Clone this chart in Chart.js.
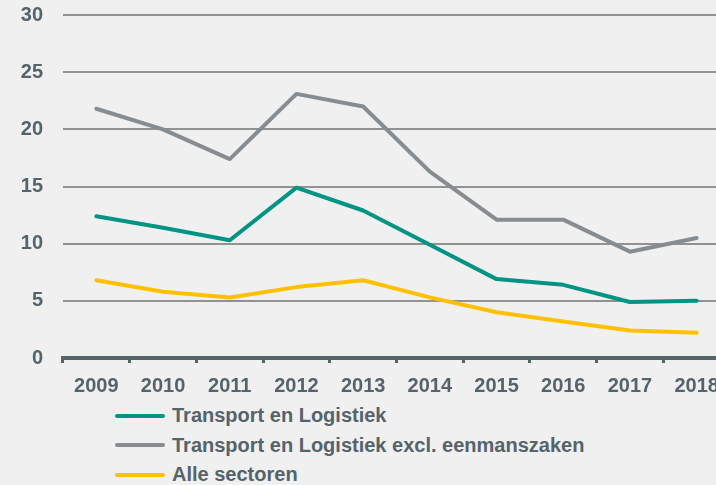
<!DOCTYPE html>
<html>
<head>
<meta charset="utf-8">
<script src="https://cdn.jsdelivr.net/npm/chart.js@4"></script>
<style>
  html, body { margin: 0; padding: 0; background: #f0f0f0; overflow: hidden; width: 716px; height: 485px; }
  #wrap { position: absolute; left: 0; top: 0; width: 730px; height: 400px; }
  #legend { position: absolute; left: 115px; top: 401px; font: bold 20px "Liberation Sans", Arial, sans-serif; color: #55636b; }
  .item { height: 29.5px; line-height: 29.5px; white-space: nowrap; }
  .swatch { display: inline-block; width: 50px; height: 4px; border-radius: 2px; vertical-align: middle; margin-right: 7px; position: relative; top: -1px; }
</style>
</head>
<body>
<div id="wrap"><canvas id="chart"></canvas></div>
<div id="legend"></div>
<script>
// Jaren en reeksen
const years = ['2009', '2010', '2011', '2012', '2013', '2014', '2015', '2016', '2017', '2018'];
const seriesNames = ['Transport en Logistiek', 'Transport en Logistiek excl. eenmanszaken', 'Alle sectoren'];
const transportLogistiek = [12.4, 11.4, 10.3, 14.9, 12.9, 9.9, 6.9, 6.4, 4.9, 5.0];
const exclEenmanszaken = [21.8, 20.0, 17.4, 23.1, 22.0, 16.3, 12.1, 12.1, 9.3, 10.5];
const alleSectoren = [6.8, 5.8, 5.3, 6.2, 6.8, 5.3, 4.0, 3.2, 2.4, 2.2];
const colors = ['#009484', '#878c91', '#ffc000'];

const textColor = '#55636b';
const font = { family: '"Liberation Sans", Arial, sans-serif', size: 20, weight: 'bold' };

const values = [transportLogistiek, exclEenmanszaken, alleSectoren];
const datasets = values.map((data, i) => ({
    label: seriesNames[i],
    data: data,
    borderColor: colors[i],
    backgroundColor: colors[i],
    borderWidth: 4,
    pointRadius: 0,
    tension: 0,
    borderJoinStyle: 'round',
    borderCapStyle: 'round',
    fill: false
}));

new Chart(document.getElementById('chart'), {
    type: 'line',
    data: { labels: years, datasets: datasets },
    options: {
        responsive: true,
        maintainAspectRatio: false,
        animation: false,
        layout: { padding: { top: 15, right: 0, bottom: 0, left: 0 } },
        plugins: { legend: { display: false }, tooltip: { enabled: false } },
        scales: {
            x: {
                offset: true,
                grid: {
                    offset: true,
                    drawOnChartArea: false,
                    drawTicks: true,
                    tickLength: 5,
                    color: textColor,
                    lineWidth: 3
                },
                border: { display: true, color: textColor, width: 4 },
                ticks: { color: textColor, font: font, padding: 11, maxRotation: 0 },
                afterFit: s => { s.height = 42; s.paddingLeft = 0; s.paddingRight = 0; }
            },
            y: {
                min: 0,
                max: 30,
                ticks: { stepSize: 5, color: textColor, font: font, padding: 20 },
                grid: { color: '#929292', lineWidth: 2, drawTicks: false },
                border: { display: false },
                afterFit: s => { s.width = 63; s.paddingTop = 0; s.paddingBottom = 0; }
            }
        }
    }
});

// Legenda onder de grafiek
const legend = document.getElementById('legend');
seriesNames.forEach((name, i) => {
    const row = document.createElement('div');
    row.className = 'item';
    row.innerHTML = `<span class="swatch" style="background:${colors[i]}"></span>${name}`;
    legend.appendChild(row);
});
</script>
</body>
</html>
